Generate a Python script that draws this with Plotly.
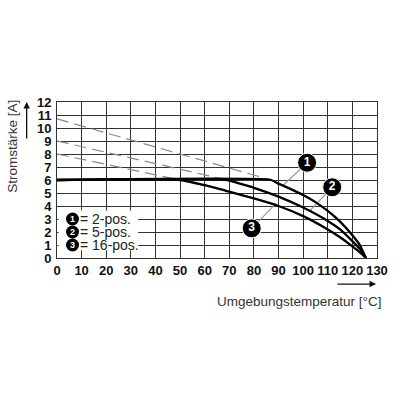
import plotly.graph_objects as go

# ---- data ----
curve1_x = [0, 87, 90, 95, 100, 105, 110, 115, 120, 123, 125.5]
curve1_y = [6, 6, 5.72, 5.3, 4.85, 4.3, 3.62, 2.8, 1.75, 1.0, 0]
curve2_x = [0, 69, 75, 80, 90, 100, 110, 115, 120, 123, 125.5]
curve2_y = [6, 6, 5.68, 5.4, 4.72, 3.88, 2.85, 2.2, 1.3, 0.7, 0]
curve3_x = [0, 50, 60, 70, 80, 90, 100, 110, 115, 120, 123, 125.5]
curve3_y = [6, 6, 5.6, 5.1, 4.58, 4.0, 3.22, 2.2, 1.6, 0.9, 0.45, 0]

dash1_x = [0, 87]
dash1_y = [10.7, 6]
dash2_x = [0, 69]
dash2_y = [9, 6]
dash3_x = [0, 50]
dash3_y = [8, 6]

callout_labels = ["1", "2", "3"]
callout_x = [101.6, 111.8, 79.1]
callout_y = [7.33, 5.44, 2.28]
leader_end_x = [92, 102.6, 89]
leader_end_y = [5.62, 3.6, 4.2]

legend_labels = ["= 2-pos.", "= 5-pos.", "= 16-pos."]
legend_nums = ["1", "2", "3"]
legend_y = [3, 2, 1]
legend_circle_x = 6.3
legend_box = dict(x0=0.6, x1=33, y0=0.6, y1=3.65)

x_ticks = list(range(0, 131, 10))
y_ticks = list(range(0, 13))

fig = go.Figure()

# dashed extensions
for dx, dy in [(dash1_x, dash1_y), (dash2_x, dash2_y), (dash3_x, dash3_y)]:
    fig.add_trace(go.Scatter(x=dx, y=dy, mode="lines",
                             line=dict(color="#8a8a8a", width=1.2, dash="12px,6px"),
                             hoverinfo="skip", showlegend=False))

# leader lines
for i in range(3):
    fig.add_trace(go.Scatter(x=[callout_x[i], leader_end_x[i]], y=[callout_y[i], leader_end_y[i]],
                             mode="lines", line=dict(color="#9a9a9a", width=1.2),
                             hoverinfo="skip", showlegend=False))

# derating curves
for cx, cy in [(curve3_x, curve3_y), (curve2_x, curve2_y), (curve1_x, curve1_y)]:
    fig.add_trace(go.Scatter(x=cx, y=cy, mode="lines",
                             line=dict(color="black", width=2.3, shape="spline", smoothing=0.5),
                             hoverinfo="skip", showlegend=False))

# callout circles
fig.add_trace(go.Scatter(x=callout_x, y=callout_y, mode="markers+text",
                         text=callout_labels, textposition="middle center",
                         textfont=dict(color="white", size=12, family="Liberation Sans", weight="bold"),
                         marker=dict(color="black", size=19, line=dict(color="white", width=1)),
                         hoverinfo="skip", showlegend=False, cliponaxis=False))

# legend: white box covering the grid, black circles, white numbers, labels
fig.add_shape(type="rect", xref="x", yref="y", fillcolor="white", line=dict(width=0),
              layer="above", **legend_box)
for num, lbl, ly in zip(legend_nums, legend_labels, legend_y):
    fig.add_shape(type="circle", xref="x", yref="y", xsizemode="pixel", ysizemode="pixel",
                  xanchor=legend_circle_x, yanchor=ly, x0=-6.5, x1=6.5, y0=-6.5, y1=6.5,
                  fillcolor="black", line=dict(width=0), layer="above")
    fig.add_annotation(x=legend_circle_x, y=ly, text=num, showarrow=False,
                       xanchor="center", yanchor="middle",
                       font=dict(family="Liberation Sans", size=9, color="white", weight="bold"))
    fig.add_annotation(x=8.4, y=ly, text=lbl, showarrow=False, xanchor="left", yanchor="middle",
                       font=dict(family="Liberation Sans", size=14, color="#222"))

# axis titles and arrows
fig.add_annotation(xref="paper", yref="paper", x=-0.1376, y=0.72, text="Stromstärke [A]",
                   textangle=-90, showarrow=False, xanchor="center", yanchor="middle",
                   font=dict(family="Liberation Sans", size=13.5, color="#333"))
fig.add_annotation(xref="paper", yref="paper", x=-0.0948, y=1.0, ax=0, ay=38,
                   axref="pixel", ayref="pixel", text="", showarrow=True,
                   arrowhead=2, arrowsize=1, arrowwidth=1.3, arrowcolor="#111")
fig.add_annotation(xref="paper", yref="paper", x=0.755, y=-0.282, text="Umgebungstemperatur [°C]",
                   showarrow=False, xanchor="center", yanchor="middle",
                   font=dict(family="Liberation Sans", size=13.5, color="#333"))
fig.add_annotation(xref="paper", yref="paper", x=0.997, y=-0.167, ax=-40, ay=0,
                   axref="pixel", ayref="pixel", text="", showarrow=True,
                   arrowhead=2, arrowsize=1, arrowwidth=1.3, arrowcolor="#111")

tickfont = dict(family="Liberation Sans", size=13, color="#111", weight="bold")
fig.update_xaxes(range=[0, 130], tickvals=x_ticks, ticktext=[str(v) for v in x_ticks],
                 showgrid=True, gridcolor="#333", gridwidth=1, zeroline=False,
                 showline=True, linecolor="#333", linewidth=1, mirror=True,
                 ticks="", tickfont=tickfont, fixedrange=True)
fig.update_yaxes(range=[0, 12], tickvals=y_ticks, ticktext=[str(v) for v in y_ticks],
                 showgrid=True, gridcolor="#333", gridwidth=1, zeroline=False,
                 showline=True, linecolor="#333", linewidth=1, mirror=True,
                 ticks="", tickfont=tickfont, ticklabelstandoff=2, fixedrange=True)

fig.update_layout(width=400, height=400, margin=dict(l=57, r=16, t=102, b=142),
                  plot_bgcolor="white", paper_bgcolor="white", showlegend=False)

fig.write_html("out.html")
